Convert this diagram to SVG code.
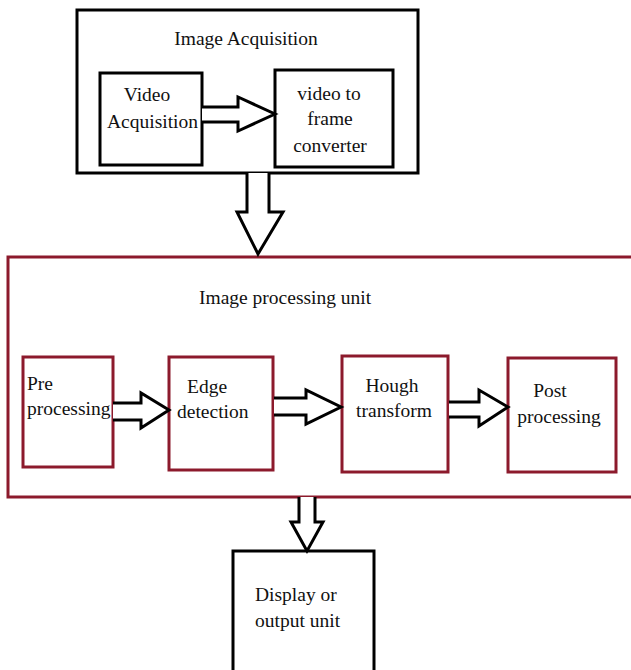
<svg xmlns="http://www.w3.org/2000/svg" width="631" height="670" viewBox="0 0 631 670">
<style>
.bk{fill:#fff;stroke:#000;stroke-width:3}
.rd{fill:#fff;stroke:#8c1a2c;stroke-width:3}
.ar{fill:#fff;stroke:#000;stroke-width:3;stroke-linejoin:miter}
text{font-family:"Liberation Serif","Times New Roman",serif;font-size:19.5px;fill:#111}
</style>
<rect width="631" height="670" fill="#fff"/>
<g id="image-acquisition">
<rect class="bk" x="77" y="10" width="341" height="163"/>
<text x="246" y="45" text-anchor="middle">Image Acquisition</text>
</g>
<g id="video-acquisition">
<rect class="bk" x="100" y="73" width="102" height="92"/>
<text x="147" y="101" text-anchor="middle">Video</text>
<text x="107" y="128">Acquisition</text>
</g>
<g id="video-to-frame">
<rect class="bk" x="275" y="70" width="118" height="97"/>
<text x="329" y="100" text-anchor="middle">video to</text>
<text x="330" y="125" text-anchor="middle">frame</text>
<text x="330" y="152" text-anchor="middle">converter</text>
</g>
<g id="image-processing-unit">
<rect class="rd" x="8" y="257" width="640" height="240"/>
<text x="199" y="304">Image processing unit</text>
</g>
<g id="pre-processing">
<rect class="rd" x="23" y="357" width="90" height="110"/>
<text x="27" y="390">Pre</text>
<text x="27" y="415">processing</text>
</g>
<g id="edge-detection">
<rect class="rd" x="169" y="357" width="104" height="113"/>
<text x="187" y="393">Edge</text>
<text x="177" y="418">detection</text>
</g>
<g id="hough-transform">
<rect class="rd" x="342" y="356" width="106" height="116"/>
<text x="392" y="392" text-anchor="middle">Hough</text>
<text x="394" y="417" text-anchor="middle">transform</text>
</g>
<g id="post-processing">
<rect class="rd" x="508" y="358" width="108" height="114"/>
<text x="550" y="397" text-anchor="middle">Post</text>
<text x="559" y="423" text-anchor="middle">processing</text>
</g>
<g id="display-output">
<rect class="bk" x="233" y="551" width="141" height="130"/>
<text x="255" y="601">Display or</text>
<text x="255" y="627">output unit</text>
</g>
<g id="connectors">
<path class="ar" d="M202,107 H238 V97 L275,114 L238,131 V122 H202"/>
<path class="ar" d="M247,173 V212 H237 L258,254 L283,212 H269 V173"/>
<path class="ar" d="M113,403 H141 V393 L169,410 L141,428 V420 H113"/>
<path class="ar" d="M274,398 H306 V390 L341,407 L306,424 V415 H274"/>
<path class="ar" d="M449,402 H479 V390 L508,407 L479,426 V417 H449"/>
<path class="ar" d="M299,497 V522 H291 L307,551 L323,522 H315 V497"/>
</g>
</svg>
